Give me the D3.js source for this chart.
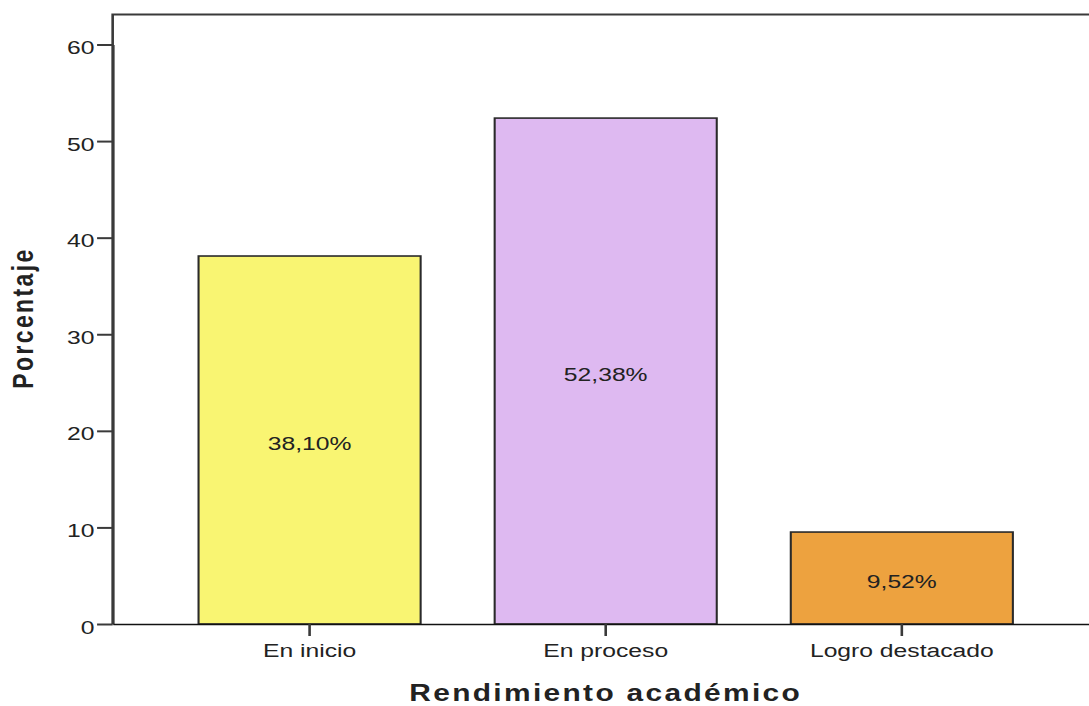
<!DOCTYPE html>
<html>
<head>
<meta charset="utf-8">
<script src="https://cdn.jsdelivr.net/npm/d3@7"></script>
<style>
  html, body { margin: 0; padding: 0; background: #ffffff; }
  svg { display: block; }
  text { font-family: "Liberation Sans", Arial, sans-serif; fill: #222; }
</style>
</head>
<body>
<script>
const categories = ["En inicio", "En proceso", "Logro destacado"];
const percentages = [38.10, 52.38, 9.52];
const barLabels = ["38,10%", "52,38%", "9,52%"];
const barColors = ["#F9F572", "#DEB9F1", "#EDA23F"];
const yTicks = [0, 10, 20, 30, 40, 50, 60];
const xTitle = "Rendimiento académico";
const yTitle = "Porcentaje";

(function () {
const W = 1089, H = 706, VBW = 838;
const svg = d3.select("body").append("svg")
  .attr("width", W).attr("height", H)
  .attr("viewBox", `0 0 ${VBW} ${H}`)
  .attr("preserveAspectRatio", "none");

const pLeft = 86.7, pRight = 845.5, pTop = 14.5, pBottom = 624;

const x = d3.scaleBand().domain(categories).range([pLeft, pRight])
  .paddingInner(0.25).paddingOuter(0.29);
const y = d3.scaleLinear().domain([0, 60]).range([pBottom, 44.5]);

// frame
svg.append("path")
  .attr("d", `M${pLeft},${pBottom}V${pTop}H${pRight}V${pBottom}`)
  .attr("fill", "none").attr("stroke", "#3a3a3a").attr("stroke-width", 2);

// bars
const data = categories.map((c, i) => ({ c, v: percentages[i], label: barLabels[i], color: barColors[i] }));
svg.selectAll("rect.bar").data(data).enter().append("rect")
  .attr("class", "bar")
  .attr("x", d => x(d.c))
  .attr("y", d => y(d.v))
  .attr("width", x.bandwidth())
  .attr("height", d => y(0) - y(d.v))
  .attr("fill", d => d.color)
  .attr("stroke", "#2a2a2a").attr("stroke-width", 1.6);

svg.selectAll("text.bl").data(data).enter().append("text")
  .attr("class", "bl")
  .attr("x", d => x(d.c) + x.bandwidth() / 2)
  .attr("y", d => (y(d.v) + y(0)) / 2)
  .attr("dy", "0.5em")
  .attr("text-anchor", "middle")
  .style("font-size", "19px")
  .text(d => d.label);

// y axis
const ya = svg.append("g").attr("transform", `translate(${pLeft},0)`)
  .call(d3.axisLeft(y).tickValues(yTicks).tickSize(12).tickPadding(2).tickSizeOuter(0));
ya.select(".domain").attr("stroke", "#3a3a3a").attr("stroke-width", 2);
ya.selectAll(".tick line").attr("stroke", "#3a3a3a").attr("stroke-width", 2);
ya.selectAll(".tick text").attr("dy", "0.48em").style("font-size", "19px").style("font-family", "'Liberation Sans', Arial, sans-serif").attr("fill", "#222");

// x axis
const xa = svg.append("g").attr("transform", `translate(0,${pBottom})`)
  .call(d3.axisBottom(x).tickSize(12).tickPadding(7.5).tickSizeOuter(0));
xa.select(".domain").attr("stroke", "#111").attr("stroke-width", 1.6);
xa.selectAll(".tick line").attr("stroke", "#3a3a3a").attr("stroke-width", 2);
xa.selectAll(".tick text").style("font-size", "19px").style("font-family", "'Liberation Sans', Arial, sans-serif").attr("fill", "#222");

// titles
svg.append("text")
  .attr("x", (pLeft + pRight) / 2).attr("y", 701)
  .attr("text-anchor", "middle")
  .style("font-size", "23px").style("font-weight", "bold")
  .style("letter-spacing", "1.8px")
  .attr("fill", "#111")
  .text(xTitle);

svg.append("text")
  .attr("transform", `translate(25.6,318) rotate(-90)`)
  .attr("text-anchor", "middle")
  .style("font-size", "23px").style("font-weight", "bold")
  .style("letter-spacing", "2.4px")
  .attr("fill", "#111")
  .text(yTitle);
})();
</script>
</body>
</html>
